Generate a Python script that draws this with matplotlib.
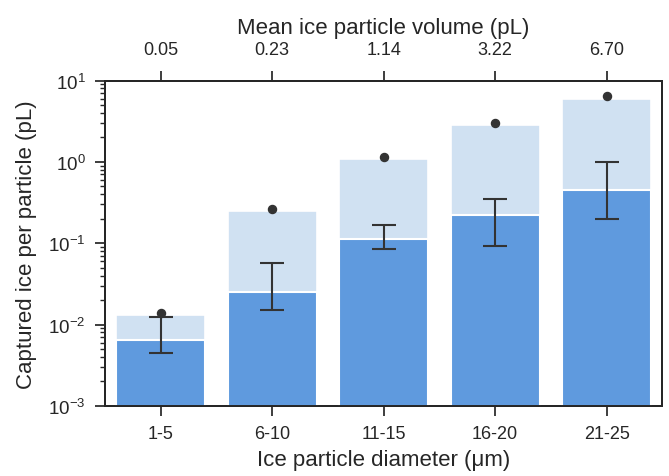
import matplotlib
matplotlib.use("Agg")
import matplotlib.pyplot as plt
import numpy as np

plt.rcParams['font.family'] = ['Liberation Sans', 'DejaVu Sans']
plt.rcParams['mathtext.fontset'] = 'custom'
plt.rcParams['mathtext.rm'] = 'Liberation Sans'
plt.rcParams['mathtext.it'] = 'Liberation Sans'
plt.rcParams['mathtext.bf'] = 'Liberation Sans:bold'

# data
diameters = ['1-5', '6-10', '11-15', '16-20', '21-25']
volumes = ['0.05', '0.23', '1.14', '3.22', '6.70']
total_ice = [0.0132, 0.251, 1.09, 2.87, 6.0]
captured_ice = [0.0064, 0.0251, 0.1135, 0.22, 0.447]
err_high = [0.0124, 0.057, 0.1675, 0.353, 0.986]
err_low = [0.00445, 0.0151, 0.0855, 0.0922, 0.199]
point_vals = [0.0138, 0.264, 1.137, 3.02, 6.41]

x = np.arange(len(diameters))
dark = '#262626'

fig = plt.figure(figsize=(6.69, 4.77), dpi=100)
ax = fig.add_axes([0.157, 0.147, 0.833, 0.682])

ax.set_yscale('log')
ax.bar(x, total_ice, width=0.8, color='#d0e1f2', edgecolor='white', linewidth=1.2, zorder=2)
ax.bar(x, captured_ice, width=0.8, color='#5f9ade', edgecolor='white', linewidth=1.5, zorder=3)

cap = np.array(captured_ice)
yerr = [cap - np.array(err_low), np.array(err_high) - cap]
ax.errorbar(x, cap, yerr=yerr, fmt='none', ecolor='#333333', elinewidth=1.5,
            capsize=8.6, capthick=1.5, zorder=4)
ax.plot(x, point_vals, 'o', color='#333333', markersize=5.8, zorder=5)

ax.set_xlim(-0.5, 4.5)
ax.set_ylim(1e-3, 1e1)
ax.set_xticks(x)
ax.set_xticklabels(diameters)
ax.set_xlabel('Ice particle diameter (μm)', fontsize=16, color=dark, labelpad=5)
ax.set_ylabel('Captured ice per particle (pL)', fontsize=16, color=dark, labelpad=8)

ax.tick_params(axis='both', which='major', labelsize=13, length=7, width=1.25,
               colors=dark, direction='out', pad=7)
ax.tick_params(axis='y', which='major', labelsize=13.5, pad=7)
ax.tick_params(axis='y', which='minor', length=3.5, width=1.0, colors=dark)
for s in ax.spines.values():
    s.set_linewidth(1.4)
    s.set_color(dark)

# top axis with mean volume
ax2 = ax.twiny()
ax2.set_xlim(ax.get_xlim())
ax2.set_xticks(x)
ax2.set_xticklabels(volumes)
ax2.set_xlabel('Mean ice particle volume (pL)', fontsize=16, color=dark, labelpad=6)
ax2.tick_params(axis='x', labelsize=13, length=7, width=1.25, colors=dark, pad=9)
for s in ax2.spines.values():
    s.set_linewidth(1.4)
    s.set_color(dark)

fig.savefig('out.png', dpi=100)
